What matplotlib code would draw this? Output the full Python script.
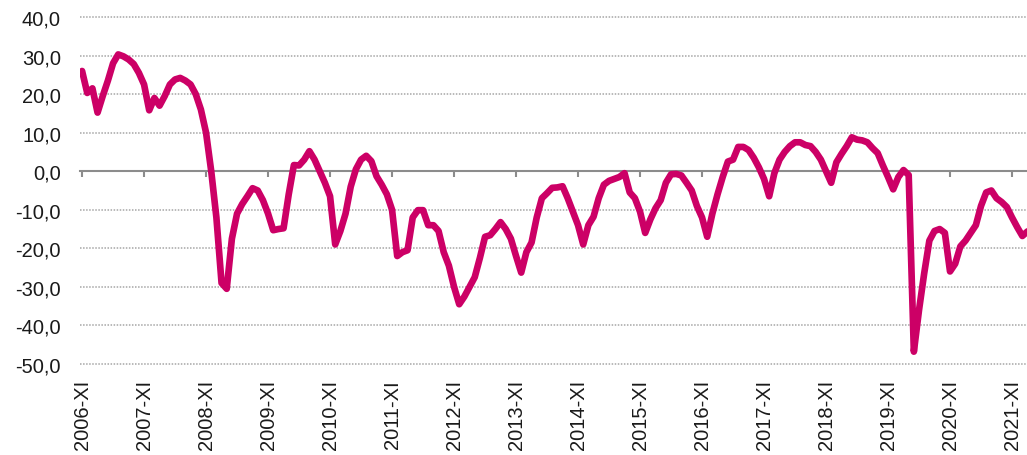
import matplotlib
matplotlib.use("Agg")
import matplotlib.pyplot as plt
import numpy as np

# monthly index, starting 2006-XI (12 values per row)
values = [
    26.0, 20.3, 21.5, 15.2, 19.5, 23.5, 28.0, 30.3, 29.8, 29.0, 27.8, 25.5,
    22.5, 15.8, 19.0, 17.0, 19.5, 22.5, 23.8, 24.2, 23.5, 22.5, 20.0, 16.0,
    10.0, 0.0, -12.0, -29.0, -30.5, -17.5, -11.0, -8.5, -6.5, -4.4, -5.0, -7.5,
    -11.0, -15.3, -15.0, -14.8, -6.0, 1.6, 1.5, 3.0, 5.2, 3.0, 0.0, -3.0,
    -6.5, -19.0, -15.5, -11.0, -4.0, 0.5, 3.0, 4.0, 2.6, -1.3, -3.5, -6.0,
    -10.0, -22.0, -21.0, -20.5, -12.0, -10.1, -10.1, -14.0, -14.0, -15.5, -21.0, -24.5,
    -30.0, -34.5, -32.5, -30.0, -27.5, -22.5, -17.0, -16.6, -15.0, -13.2, -15.0, -17.5,
    -22.0, -26.3, -21.0, -18.5, -12.0, -7.0, -5.7, -4.3, -4.2, -3.9, -7.0, -10.5,
    -14.0, -19.0, -14.0, -11.8, -7.0, -3.5, -2.5, -2.0, -1.5, -0.5, -5.5, -7.0,
    -10.5, -16.0, -12.5, -9.6, -7.5, -3.0, -0.8, -0.7, -1.1, -3.0, -5.0, -9.0,
    -12.0, -17.0, -11.0, -6.0, -1.5, 2.5, 3.0, 6.3, 6.3, 5.5, 3.5, 1.0,
    -2.0, -6.5, -0.5, 3.0, 5.0, 6.5, 7.5, 7.5, 6.8, 6.5, 5.0, 3.0,
    0.0, -3.0, 2.3, 4.5, 6.5, 8.8, 8.2, 8.0, 7.5, 6.0, 4.7, 1.5,
    -1.5, -4.7, -1.5, 0.3, -1.0, -46.8, -36.0, -26.5, -18.0, -15.5, -15.0, -16.0,
    -26.0, -24.0, -19.5, -18.0, -16.0, -14.0, -9.0, -5.5, -5.0, -7.0, -8.0, -9.3,
    -12.0, -14.5, -16.8, -15.6,
]

tick_labels = ["2006-XI", "2007-XI", "2008-XI", "2009-XI", "2010-XI", "2011-XI",
               "2012-XI", "2013-XI", "2014-XI", "2015-XI", "2016-XI", "2017-XI",
               "2018-XI", "2019-XI", "2020-XI", "2021-XI"]

y_ticks = [40, 30, 20, 10, 0, -10, -20, -30, -40, -50]

plt.rcParams['font.family'] = ['Liberation Sans', 'DejaVu Sans']

fig = plt.figure(figsize=(10.27, 4.56), dpi=100)
ax = fig.add_axes([80 / 1027, (456 - 368.85) / 456, 1 - 80 / 1027, 354.7 / 456])

x = np.arange(len(values))
ax.plot(x, values, color='#cc0066', lw=4.8, solid_joinstyle='round',
        solid_capstyle='round', zorder=3)

ax.set_xlim(-0.4, 182.9)
ax.set_ylim(-51, 41)

# y axis: labels with decimal comma, dotted grid
ax.set_yticks(y_ticks)
ax.set_yticklabels([f"{v:.1f}".replace('.', ',') for v in y_ticks])
ax.tick_params(axis='y', length=0, pad=13.7, labelsize=14.5, labelcolor='#1a1a1a')
ax.yaxis.grid(True, color='#a6a6a6', lw=1.1, linestyle=(0, (1, 1)))
ax.set_axisbelow(True)

for s in ['top', 'right', 'left']:
    ax.spines[s].set_visible(False)

# x axis line sits at zero, ticks hang below it
ax.spines['bottom'].set_position(('data', 0))
ax.spines['bottom'].set_color('#8c8c8c')
ax.spines['bottom'].set_linewidth(1.5)
ax.spines['bottom'].set_zorder(2)
ticks = np.arange(0, 12 * len(tick_labels), 12)
ax.set_xticks(ticks)
ax.tick_params(axis='x', direction='out', length=4, width=1.5, color='#8c8c8c',
               labelbottom=False)

# labels at the bottom of the plot
sec = ax.secondary_xaxis('bottom')
sec.set_xticks(ticks)
sec.set_xticklabels(tick_labels, rotation=90, fontsize=14.5, color='#1a1a1a')
sec.tick_params(length=0, pad=8)
sec.spines['bottom'].set_visible(False)

fig.savefig("out.png", dpi=100)
